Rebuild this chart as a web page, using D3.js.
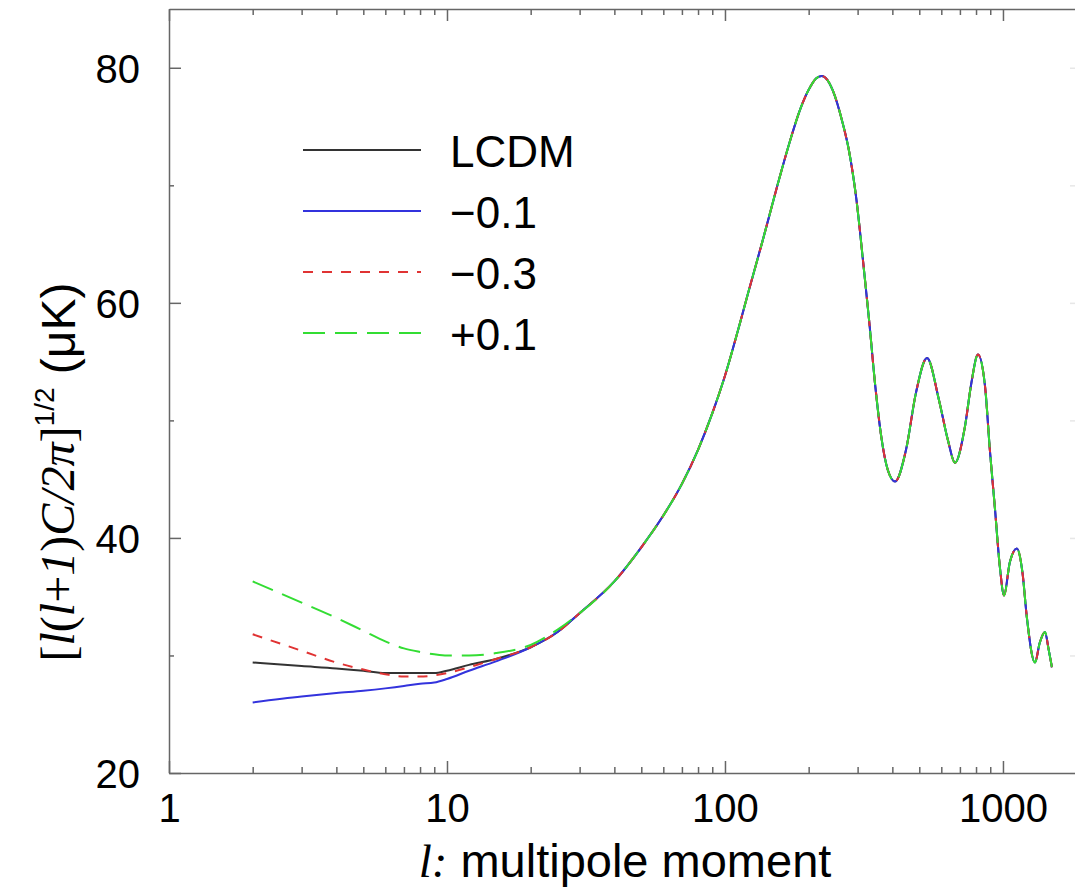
<!DOCTYPE html>
<html>
<head>
<meta charset="utf-8">
<script src="https://cdn.jsdelivr.net/npm/d3@7"></script>
<style>
  body { margin: 0; background: #fff; }
  text { font-family: "Liberation Sans", Arial, Helvetica, sans-serif; fill: #000; }
</style>
</head>
<body>
<svg id="chart" width="1075" height="891"></svg>
<script>
// low multipoles, where the models differ
const lowEll   = [2, 3, 4, 5, 6, 7, 8, 9, 10, 12, 15, 20, 25];
const lcdmLow  = [29.4, 29.1, 28.9, 28.7, 28.5, 28.5, 28.5, 28.5, 28.7, 29.2, 29.7, 30.7, 32.0];
const m01Low   = [26.0, 26.5, 26.8, 27.0, 27.2, 27.4, 27.6, 27.7, 28.0, 28.7, 29.5, 30.7, 32.0];
const m03Low   = [31.8, 30.4, 29.4, 28.8, 28.4, 28.2, 28.2, 28.3, 28.5, 29.0, 29.7, 30.7, 32.0];
const p01Low   = [36.3, 34.5, 33.2, 32.1, 31.2, 30.6, 30.3, 30.1, 30.0, 30.0, 30.2, 30.9, 32.2];

// acoustic peaks, the same for every model
const tailEll  = [30, 40, 50, 60, 70, 80, 90, 100, 113, 121, 137, 154, 172, 186, 203, 213, 223, 233,
                  244, 265, 279, 297, 314, 330, 347, 365, 385, 409, 448, 486, 533, 589, 634, 672,
                  729, 770, 813, 862, 897, 935, 975, 1009, 1058, 1122, 1176, 1218, 1303, 1357,
                  1416, 1460, 1500];
const tailVals = [33.6, 36.3, 39.2, 41.9, 44.6, 47.5, 50.6, 53.8, 58.2, 60.8, 65.4, 69.9, 73.9, 76.4, 78.4, 79.1, 79.3, 79.0,
                  78.1, 75.3, 73.0, 68.8, 63.5, 58.5, 53.0, 48.6, 45.8, 44.8, 47.5, 52.3, 55.3, 51.7, 48.3, 46.4,
                  49.4, 53.2, 55.6, 52.9, 47.5, 42.6, 37.5, 35.1, 37.9, 39.1, 37.0, 33.3, 29.4, 31.1,
                  32.0, 30.5, 29.0];

const seriesNames  = ["LCDM", "\u22120.1", "\u22120.3", "+0.1"];
const seriesLow    = [lcdmLow, m01Low, m03Low, p01Low];
const seriesColors = ["#333333", "#3333dd", "#e03333", "#33dd33"];
const seriesDash   = [null, null, "10,9", "22,10"];

const xMajor = [1, 10, 100, 1000];
const xMinor = [2, 3, 4, 5, 6, 7, 8, 9, 20, 30, 40, 50, 60, 70, 80, 90, 200, 300, 400, 500, 600, 700, 800, 900];
const yMajor = [20, 40, 60, 80];
const yMinor = [30, 50, 70];

const svg = d3.select("#chart");
const plotLeft = 169, plotRight = 1075, plotTop = 9, plotBottom = 773;

const x = d3.scaleLog().domain([1, 1816]).range([plotLeft, plotRight]);
const y = d3.scaleLinear().domain([20, 85]).range([plotBottom, plotTop]);

const axisColor = "#666";

// bottom axis
const gB = svg.append("g").attr("transform", `translate(0,${plotBottom})`)
    .call(d3.axisBottom(x).tickValues(xMajor).tickSize(-12).tickSizeOuter(0).tickFormat(d3.format("d")));
svg.append("g").attr("transform", `translate(0,${plotBottom})`)
    .call(d3.axisBottom(x).tickValues(xMinor).tickSize(-6).tickSizeOuter(0).tickFormat(""))
    .select(".domain").remove();
gB.selectAll("text").attr("y", 49).attr("dy", null)
    .style("font-size", "40px").style("font-family", "'Liberation Sans', Arial, sans-serif");

// top axis
svg.append("g").attr("transform", `translate(0,${plotTop})`)
    .call(d3.axisTop(x).tickValues(xMajor).tickSize(-12).tickSizeOuter(0).tickFormat(""));
svg.append("g").attr("transform", `translate(0,${plotTop})`)
    .call(d3.axisTop(x).tickValues(xMinor).tickSize(-6).tickSizeOuter(0).tickFormat(""))
    .select(".domain").remove();

// left axis
const gL = svg.append("g").attr("transform", `translate(${plotLeft},0)`)
    .call(d3.axisLeft(y).tickValues(yMajor).tickSize(-12).tickSizeOuter(0).tickFormat(d3.format("d")));
svg.append("g").attr("transform", `translate(${plotLeft},0)`)
    .call(d3.axisLeft(y).tickValues(yMinor).tickSize(-5).tickSizeOuter(0).tickFormat(""))
    .select(".domain").remove();
gL.selectAll("text").attr("x", -29).attr("dy", "0.36em")
    .style("font-size", "40px").style("font-family", "'Liberation Sans', Arial, sans-serif");

// right axis sits just past the edge, only its ticks show faintly
svg.append("g").attr("transform", `translate(${plotRight + 2},0)`)
    .call(d3.axisRight(y).tickValues(yMajor.concat(yMinor)).tickSize(-7).tickSizeOuter(0).tickFormat(""))
    .attr("opacity", 0.15);

svg.selectAll(".domain, .tick line").attr("stroke", axisColor).attr("stroke-width", 1.5);

// curves
const line = d3.line()
    .x(d => x(d.l))
    .y(d => y(d.v))
    .curve(d3.curveMonotoneX);

seriesLow.forEach((low, i) => {
    const ells = lowEll.concat(tailEll);
    const vals = low.concat(tailVals);
    const pts = ells.map((l, j) => ({ l: l, v: vals[j] }));
    svg.append("path")
        .datum(pts)
        .attr("fill", "none")
        .attr("stroke", seriesColors[i])
        .attr("stroke-width", 2)
        .attr("stroke-dasharray", seriesDash[i])
        .attr("d", line);
});

// legend
const legend = svg.append("g");
seriesNames.forEach((name, i) => {
    const ly = 150 + i * 61;
    legend.append("line")
        .attr("x1", 303).attr("x2", 421)
        .attr("y1", ly).attr("y2", ly)
        .attr("stroke", seriesColors[i])
        .attr("stroke-width", 2)
        .attr("stroke-dasharray", seriesDash[i]);
    legend.append("text")
        .attr("x", 450).attr("y", ly + 17)
        .style("font-size", "44px")
        .text(name);
});

// x title
const xt = svg.append("text")
    .attr("x", 625).attr("y", 877)
    .attr("text-anchor", "middle")
    .style("font-size", "47px");
xt.append("tspan").style("font-family", "'Liberation Serif', 'Times New Roman', serif")
    .style("font-style", "italic").text("l:");
xt.append("tspan").text(" multipole moment");

// y title
const yt = svg.append("text")
    .attr("transform", "translate(74,472) rotate(-90)")
    .attr("text-anchor", "middle")
    .style("font-size", "48px");
const serif = "'Liberation Serif', 'Times New Roman', serif";
yt.append("tspan").style("font-family", serif).text("[");
yt.append("tspan").style("font-family", serif).style("font-style", "italic").text("l");
yt.append("tspan").style("font-family", serif).text("(");
yt.append("tspan").style("font-family", serif).style("font-style", "italic").text("l");
yt.append("tspan").style("font-family", serif).text("+");
yt.append("tspan").style("font-family", serif).style("font-style", "italic").text("1");
yt.append("tspan").style("font-family", serif).text(")");
yt.append("tspan").style("font-family", serif).style("font-style", "italic").text("C");
yt.append("tspan").style("font-family", serif).style("font-style", "italic").text("/2\u03c0");
yt.append("tspan").style("font-family", serif).text("]");
yt.append("tspan").attr("dy", "-0.7em").style("font-size", "28px").text("1/2");
yt.append("tspan").attr("dy", "0.42em").text(" (\u03bcK)");
</script>
</body>
</html>
